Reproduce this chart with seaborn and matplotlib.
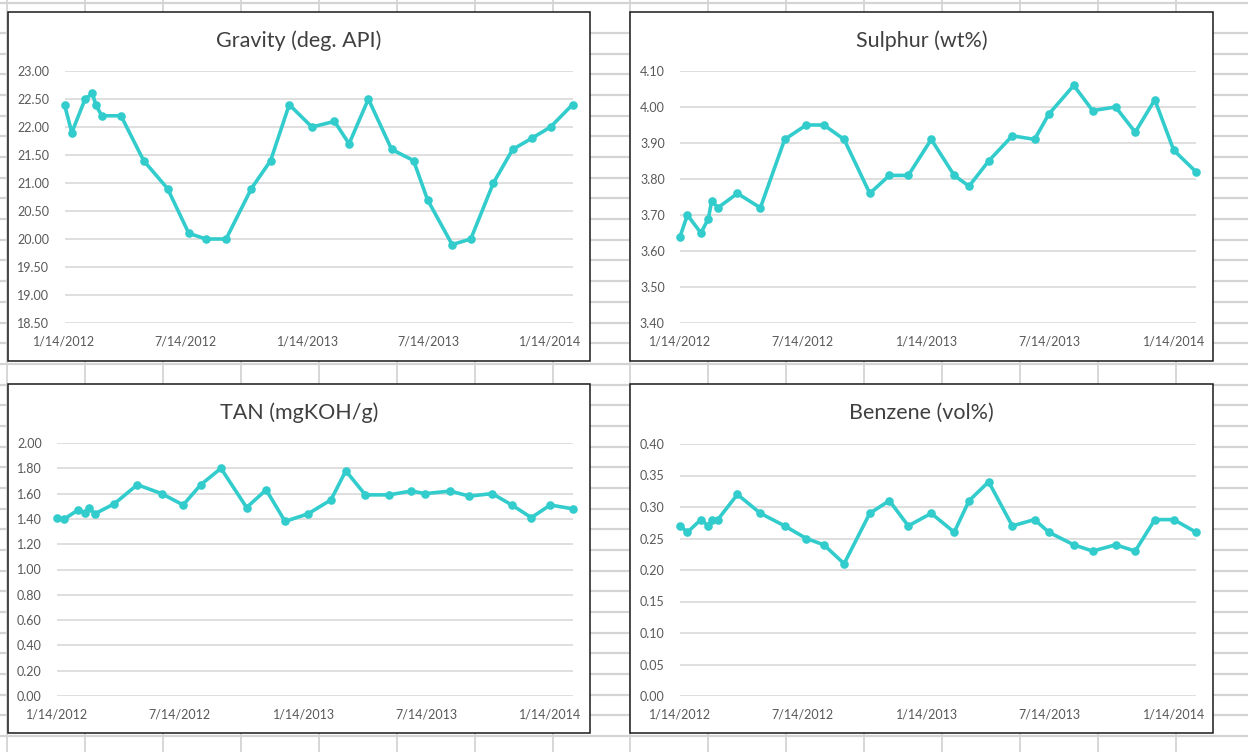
import matplotlib
matplotlib.use("Agg")
import matplotlib.pyplot as plt
from matplotlib.lines import Line2D
from matplotlib.patches import Rectangle
import matplotlib.ticker as mticker
import numpy as np
import pandas as pd
import seaborn as sns

# ---- sample data -------------------------------------------------------
sample_dates = [
    "2012-01-14", "2012-01-25", "2012-02-14", "2012-02-25", "2012-03-01",
    "2012-03-10", "2012-04-08", "2012-05-12", "2012-06-17", "2012-07-19",
    "2012-08-14", "2012-09-13", "2012-10-21", "2012-11-19", "2012-12-17",
    "2013-01-20", "2013-02-23", "2013-03-17", "2013-04-15", "2013-05-20",
    "2013-06-22", "2013-07-13", "2013-08-19", "2013-09-16", "2013-10-20",
    "2013-11-18", "2013-12-17", "2014-01-14", "2014-02-16",
]

gravity = [22.4, 21.9, 22.5, 22.6, 22.4, 22.2, 22.2, 21.4, 20.9, 20.1,
           20.0, 20.0, 20.9, 21.4, 22.4, 22.0, 22.1, 21.7, 22.5, 21.6,
           21.4, 20.7, 19.9, 20.0, 21.0, 21.6, 21.8, 22.0, 22.4]

sulphur = [3.64, 3.70, 3.65, 3.69, 3.74, 3.72, 3.76, 3.72, 3.91, 3.95,
           3.95, 3.91, 3.76, 3.81, 3.81, 3.91, 3.81, 3.78, 3.85, 3.92,
           3.91, 3.98, 4.06, 3.99, 4.00, 3.93, 4.02, 3.88, 3.82]

tan = [1.41, 1.40, 1.47, 1.45, 1.49, 1.44, 1.52, 1.67, 1.60, 1.51,
       1.67, 1.80, 1.49, 1.63, 1.38, 1.44, 1.55, 1.78, 1.59, 1.59,
       1.62, 1.60, 1.62, 1.58, 1.60, 1.51, 1.41, 1.51, 1.48]

benzene = [0.27, 0.26, 0.28, 0.27, 0.28, 0.28, 0.32, 0.29, 0.27, 0.25,
           0.24, 0.21, 0.29, 0.31, 0.27, 0.29, 0.26, 0.31, 0.34, 0.27,
           0.28, 0.26, 0.24, 0.23, 0.24, 0.23, 0.28, 0.28, 0.26]

titles = ["Gravity (deg. API)", "Sulphur (wt%)", "TAN (mgKOH/g)", "Benzene (vol%)"]
y_ranges = [(18.5, 23.0, 0.5), (3.4, 4.1, 0.1), (0.0, 2.0, 0.2), (0.0, 0.4, 0.05)]

# ---- figure / layout ---------------------------------------------------
W, H, DPI = 1248, 752, 100
LINE_COLOR = "#33CCCC"
TEXT_COLOR = "#595959"
SHEET_GRID = "#D4D4D4"

sns.set_theme(style="white")
plt.rcParams["font.family"] = ["Lato", "DejaVu Sans"]

fig = plt.figure(figsize=(W / DPI, H / DPI), dpi=DPI)
fig.patch.set_facecolor("white")


def fx(px):
    return px / W


def fy(py):
    return 1 - py / H


# worksheet cell grid behind the charts
col_lines = [7 + 77.93 * i for i in range(16)]
row_lines = [3] + [33 + 20.68 * k for k in range(35)]
for x in col_lines:
    fig.add_artist(Line2D([fx(x), fx(x)], [0, 1], transform=fig.transFigure,
                          color=SHEET_GRID, lw=1.3, zorder=0))
for y in row_lines:
    fig.add_artist(Line2D([0, 1], [fy(y), fy(y)], transform=fig.transFigure,
                          color=SHEET_GRID, lw=1.6, zorder=0))

# chart boxes (left, top, right, bottom) and plot areas in pixels
boxes = [(8, 12, 590, 361), (630, 12, 1213, 361),
         (8, 384, 590, 733), (630, 384, 1213, 733)]
plots = [(64.5, 71, 572.5, 323), (680, 71, 1196, 323),
         (57, 443, 572.5, 696), (680, 444, 1196, 696)]

dates = pd.to_datetime(sample_dates)
series = [gravity, sulphur, tan, benzene]
tick_dates = [dates[0] + pd.DateOffset(months=6 * i) for i in range(5)]

for title, values, (lo, hi, step), box, area in zip(titles, series, y_ranges, boxes, plots):
    bl, bt, br, bb = box
    fig.add_artist(Rectangle((fx(bl), fy(bb)), fx(br) - fx(bl), fy(bt) - fy(bb),
                             transform=fig.transFigure, facecolor="white",
                             edgecolor="#1a1a1a", lw=1.1, zorder=1))
    pl, pt, pr, pb = area
    ax = fig.add_axes([fx(pl), fy(pb), fx(pr) - fx(pl), fy(pt) - fy(pb)])
    ax.set_zorder(2)
    ax.set_facecolor("none")

    df = pd.DataFrame({"date": dates, "value": values})
    sns.lineplot(data=df, x="date", y="value", ax=ax, color=LINE_COLOR,
                 linewidth=2.6, marker="o", markersize=6.2,
                 markeredgewidth=0, solid_capstyle="round")
    for ln in ax.lines:
        ln.set_clip_on(False)

    ax.set_xlim(dates[0], dates[-1])
    ax.set_ylim(lo, hi)
    ax.set_yticks(np.arange(lo, hi + step / 2, step))
    ax.yaxis.set_major_formatter(mticker.FormatStrFormatter("%.2f"))
    ax.set_xticks(tick_dates)
    ax.set_xticklabels([f"{d.month}/{d.day}/{d.year}" for d in tick_dates])
    ax.grid(axis="y", color="#D9D9D9", lw=1.2)
    ax.grid(axis="x", visible=False)
    ax.set_axisbelow(True)
    for s in ax.spines.values():
        s.set_visible(False)
    ax.tick_params(axis="y", length=0, pad=11, labelsize=9, labelcolor=TEXT_COLOR)
    ax.tick_params(axis="x", length=0, pad=9, labelsize=9, labelcolor=TEXT_COLOR)
    ax.set_xlabel("")
    ax.set_ylabel("")

    fig.text(fx((bl + br) / 2), fy(bt + 29), title, ha="center", va="center",
             fontsize=15.5, color="#404040", zorder=3)

fig.savefig("out.png", dpi=DPI, facecolor="white")
